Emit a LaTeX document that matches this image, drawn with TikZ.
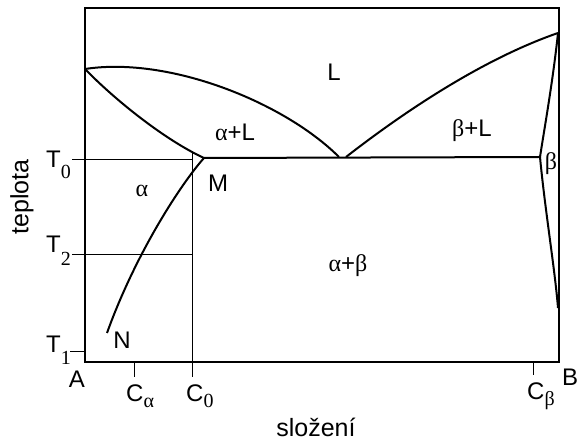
\documentclass[tikz,border=0pt]{standalone}
\usepackage{fontspec}
\setmainfont{Liberation Sans}
\newfontfamily\grk{Liberation Serif}
\newcommand\lowsub[2]{\raisebox{-#1pt}{\fontsize{20}{20}\selectfont\grk #2}}
\begin{document}
\begin{tikzpicture}[x=1pt,y=-1pt,
  heavy/.style={line width=2.2pt, line join=miter},
  curve/.style={line width=2pt},
  guide/.style={line width=0.9pt},
  lab/.style={font=\fontsize{24}{28}\selectfont, inner sep=0pt},
  axlab/.style={font=\fontsize{25}{29}\selectfont, inner sep=0pt}]
\useasboundingbox (0,0) rectangle (579,443);
% key points
\coordinate (Ta) at (85,69);
\coordinate (Tb) at (558,33);
\coordinate (M) at (204,158);
\coordinate (E1) at (339,157);
\coordinate (E2) at (346,157);
\coordinate (Bs) at (540,157);
\coordinate (N) at (107,333);
\coordinate (Bend) at (558,308);
% guide lines
\draw[guide] (72,159) -- (192,159);
\draw[guide] (72,254) -- (193,254);
\draw[guide] (192,152) -- (192,377);
\draw[guide] (70,351) -- (85,351);
\draw[guide] (134,362) -- (134,377);
\draw[guide] (533,362) -- (533,375);
% frame
\draw[heavy] (85,8) rectangle (559,362);
% phase boundaries
\draw[curve] (Ta) .. controls (170,56) and (285,103) .. (E1);
\draw[curve] (Ta) .. controls (115,100) and (165,140) .. (M);
\draw[curve] (M) .. controls (180,185) and (135,255) .. (N);
\draw[curve] (M) -- (Bs);
\draw[curve] (E2) .. controls (400,115) and (480,60) .. (Tb);
\draw[curve] (Tb) .. controls (553,80) and (545,125) .. (Bs);
\draw[curve] (Bs) .. controls (545,210) and (555,270) .. (Bend);
% labels
\node[lab, anchor=base west] (t0) at (46,168) {T\lowsub{11}{0}};
\node[lab, anchor=base west] (t2) at (46,253) {T\lowsub{13}{2}};
\node[lab, anchor=base west] (t1) at (46,353) {T\lowsub{12}{1}};
\node[lab, anchor=base west] (ca) at (126,402) {C\lowsub{6}{α}};
\node[lab, anchor=base west] (c0) at (186,402) {C\lowsub{6}{0}};
\node[lab, anchor=base west] (cb) at (527,400) {C\lowsub{6}{β}};
\node[lab, anchor=base] (A) at (77,388) {A};
\node[lab, anchor=base west] (B) at (562,386) {B};
\node[lab] (L) at (334,72) {L};
\node[lab] (aL) at (235,132) {{\grk α}+L};
\node[lab] (bL) at (472,131) {{\grk β}+L};
\node[lab] (a) at (142,191) {\grk α};
\node[lab] (b) at (551,164) {\grk β};
\node[lab] (ab) at (348,266) {{\grk α}+{\grk β}};
\node[lab] (Mlab) at (218,183) {M};
\node[lab] (Nlab) at (122,340) {N};
\node[axlab, anchor=base] (xl) at (316,437) {složení};
\node[axlab, rotate=90] (yl) at (22,197) {teplota};
\end{tikzpicture}
\end{document}
